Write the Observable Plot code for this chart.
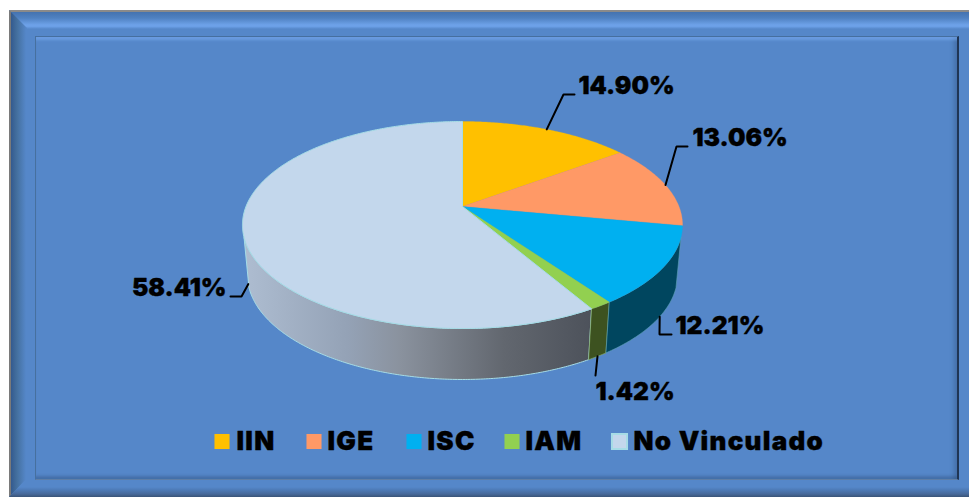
<!DOCTYPE html>
<html>
<head>
<meta charset="utf-8">
<script src="https://cdn.jsdelivr.net/npm/d3@7"></script>
<script src="https://cdn.jsdelivr.net/npm/@observablehq/plot@0.6"></script>
<style>
html,body{margin:0;padding:0;background:#fff;width:969px;height:497px;overflow:hidden}
#stage{position:relative;width:969px;height:497px}
#stage>div{position:absolute}
#base{left:9px;top:10px;width:960px;height:487px;background:#5587c9}
#top{left:9px;top:10px;width:960px;height:20px;clip-path:polygon(0 0,100% 0,100% 100%,18px 100%);
 background:linear-gradient(180deg,#8a8a8a 0,#8a8a8a 2px,#4574b1 2.5px,#4f81c1 8px,#6ea2e9 15px,#6b9fe6 16.5px,#5587c9 19px)}
#left{left:9px;top:10px;width:18px;height:487px;clip-path:polygon(0 0,100% 18px,100% calc(100% - 18px),0 100%);
 background:linear-gradient(90deg,#7a7a7a 0,#7a7a7a 2px,#355c90 2.5px,#44709f 8px,#5587c9 17px)}
#bottom{left:9px;top:478px;width:960px;height:19px;clip-path:polygon(18px 0,100% 0,100% 100%,0 100%);
 background:linear-gradient(180deg,#5587c9 0,#5587c9 9px,#4d7ab6 12px,#47699a 16px,#3a5478 19px)}
#inner{left:35px;top:36px;width:921px;height:442px;border-style:solid;border-width:1px 2px 1px 1px;
 border-color:#466f9f #1f3554 #5f7ea6 #46709f;
 box-shadow:inset 0 5px 3px -2px rgba(125,175,245,.55),inset -6px 0 4px -3px rgba(40,70,110,.35),inset 0 -5px 3px -2px rgba(40,70,110,.35)}
#chart{left:0;top:0;width:969px;height:497px}
.legend-label text{letter-spacing:1.25px}
</style>
</head>
<body>
<div id="stage">
  <div id="base"></div><div id="top"></div><div id="left"></div><div id="bottom"></div><div id="inner"></div>
  <div id="chart"></div>
</div>
<script>
// Data
const categories = ["IIN", "IGE", "ISC", "IAM", "No Vinculado"];
const shares = [14.90, 13.06, 12.21, 1.42, 58.41];
const shareLabels = ["14.90%", "13.06%", "12.21%", "1.42%", "58.41%"];
const topColors = ["#FFC000", "#FF9966", "#00B0F0", "#92D050", "#C3D7EC"];
const sideColors = ["#7f6000", "#804d33", "#00465F", "#3D5220", "url(#sideGradient)"];

// Layout of the perspective pie (pixel space)
const pie = {cx: 462, top: {cy: 206, a: 216.5, b: 100.2}, bottom: {cy: 256, a: 211.6, b: 101}, p: 0.1787};
const wallFrom = 107 * Math.PI / 180, wallTo = 253 * Math.PI / 180;
const leaderElbows = [[563, 94, 574, 94], [676, 146, 687, 146], [659, 334, 671, 334], [595, 375, 595, 375], [241, 296, 230, 296]];
const leaderFromBottom = [false, false, true, true, true];
const labelPos = [[578, 86, "start"], [692, 138, "start"], [675, 326, "start"], [595, 392, "start"], [226, 288, "end"]];
const legendSwatchX = [221.5, 313.5, 413.5, 511.5, 619];
const legendTextX = [236, 327, 427, 525, 633];
const legendY = 441;
const font = {fill: "#000", stroke: "#000", strokeWidth: 0.35, fontWeight: 900, fontFamily: "Inter"};

function project(theta, rim) {
  const u = Math.sin(theta), v = Math.cos(theta), k = 1 + pie.p * v;
  return {x: pie.cx + rim.a * u / k, y: rim.cy - rim.b * v / k};
}
const total = d3.sum(shares);
let acc = 0;
const slices = shares.map((s, i) => {
  const t0 = acc / total * 2 * Math.PI; acc += s;
  const t1 = acc / total * 2 * Math.PI;
  return {i, t0, t1, mid: (t0 + t1) / 2};
});
function arc(t0, t1, rim) {
  const n = Math.max(4, Math.ceil((t1 - t0) / 0.01));
  return d3.range(n + 1).map(j => project(t0 + (t1 - t0) * j / n, rim));
}
const topPoly = d => [{x: pie.cx, y: pie.top.cy}, ...arc(d.t0, d.t1, pie.top), {x: pie.cx, y: pie.top.cy}];
const sidePoly = d => {
  const a = Math.max(d.t0, wallFrom), b = Math.min(d.t1, wallTo);
  return [...arc(a, b, pie.top), ...arc(a, b, pie.bottom).reverse(), project(a, pie.top)];
};
const wallSlices = slices.filter(d => d.t1 > wallFrom && d.t0 < wallTo);
const sideEdges = ["none", "none", "#5FA3B8", "#8FB56A", "#A6DCE6"];

const lineOpts = {x: "x", y: "y", curve: "linear"};
const marks = [
  () => {
    const ns = "http://www.w3.org/2000/svg";
    const defs = document.createElementNS(ns, "defs");
    const g = document.createElementNS(ns, "linearGradient");
    g.setAttribute("id", "sideGradient");
    g.setAttribute("gradientUnits", "userSpaceOnUse");
    g.setAttribute("x1", 243); g.setAttribute("x2", 590); g.setAttribute("y1", 0); g.setAttribute("y2", 0);
    [[0, "#AEBDD1"], [0.3, "#94A2B6"], [0.45, "#8A929E"], [0.75, "#62676F"], [1, "#4D525B"]].forEach(([o, c]) => {
      const s = document.createElementNS(ns, "stop");
      s.setAttribute("offset", o); s.setAttribute("stop-color", c); g.appendChild(s);
    });
    defs.appendChild(g);
    return defs;
  },
  ...[...wallSlices].reverse().map(d => Plot.line(sidePoly(d), {...lineOpts, fill: sideColors[d.i],
    stroke: sideEdges[d.i], strokeWidth: d.i === 4 ? 1 : 0.6})),
  ...slices.map(d => Plot.line(topPoly(d), {...lineOpts, fill: topColors[d.i],
    stroke: d.i === 4 ? "#A6DCE6" : topColors[d.i], strokeWidth: d.i === 4 ? 1 : 0.3})),
  ...slices.map(d => {
    const a = project(d.mid, leaderFromBottom[d.i] ? pie.bottom : pie.top);
    const e = leaderElbows[d.i];
    return Plot.line([a, {x: e[0], y: e[1]}, {x: e[2], y: e[3]}], {...lineOpts, stroke: "#000", strokeWidth: 2, strokeLinejoin: "miter"});
  }),
  ...["start", "end"].map(anchor => Plot.text(
    shareLabels.map((t, i) => ({t, x: labelPos[i][0], y: labelPos[i][1]})).filter((d, i) => labelPos[i][2] === anchor),
    {x: "x", y: "y", text: "t", textAnchor: anchor, fontSize: 24.6, ...font})),
  Plot.dot(categories.map((c, i) => ({c, i})), {x: d => legendSwatchX[d.i], y: () => legendY, symbol: "square", r: 8.5,
    fill: d => topColors[d.i], stroke: d => d.i === 4 ? "#A6DCE6" : "none", strokeWidth: 2}),
  Plot.text(categories.map((c, i) => ({c, i})), {x: d => legendTextX[d.i], y: () => legendY, text: "c", textAnchor: "start",
    fontSize: 26, className: "legend-label", ...font})
];

const plot = Plot.plot({
  width: 969, height: 497, margin: 0,
  x: {domain: [0, 969], range: [0, 969], axis: null},
  y: {domain: [0, 497], range: [0, 497], axis: null},
  color: {type: "identity"},
  style: {background: "transparent"},
  marks
});
document.getElementById("chart").appendChild(plot);
</script>
</body>
</html>
